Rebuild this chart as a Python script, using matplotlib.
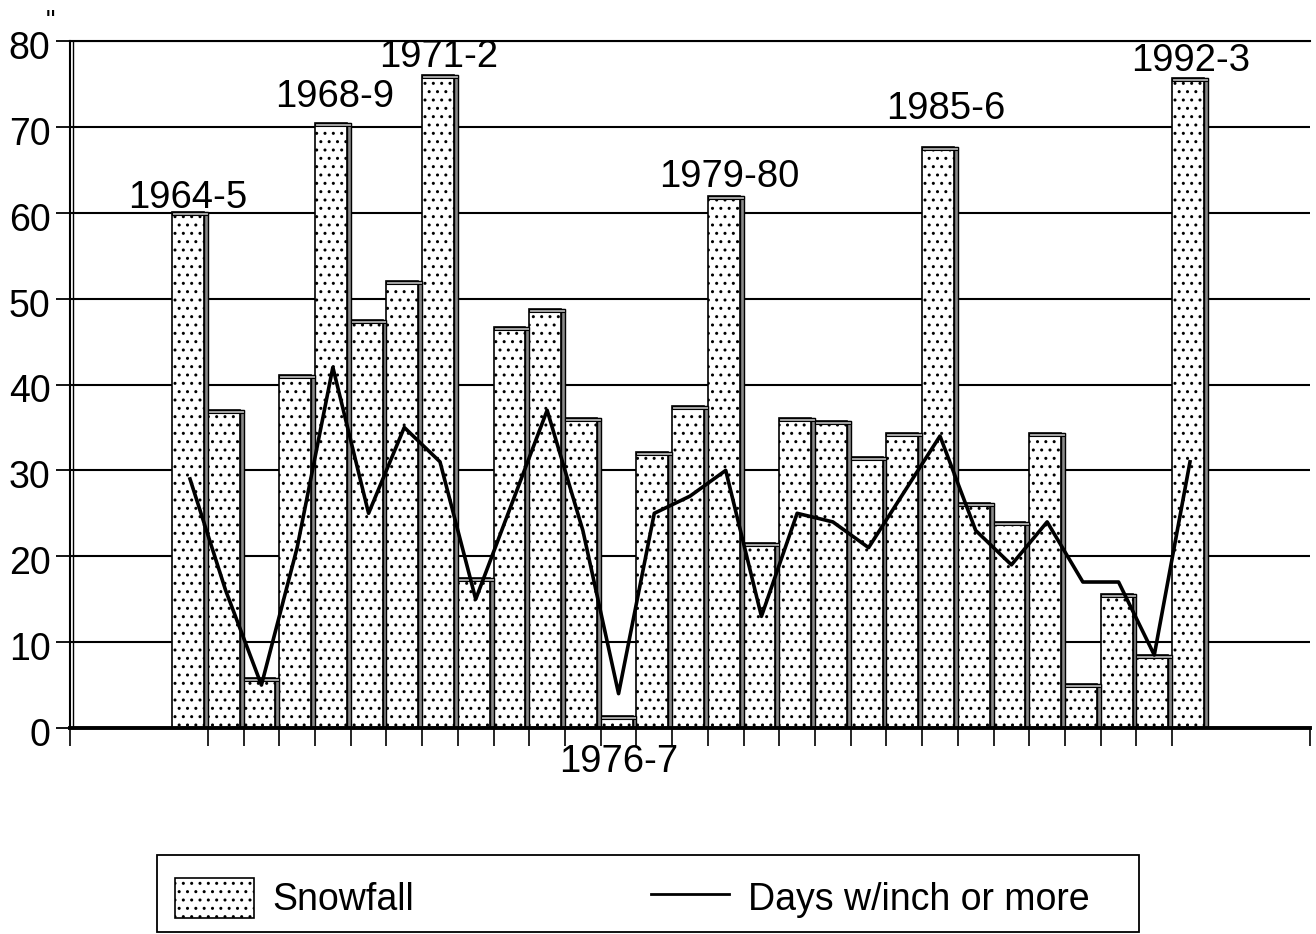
import matplotlib
matplotlib.use("Agg")
import matplotlib.pyplot as plt
import matplotlib.transforms as mtransforms
from matplotlib.patches import Patch, Rectangle
from matplotlib.lines import Line2D

plt.rcParams['font.family'] = ['Liberation Sans', 'DejaVu Sans']
plt.rcParams['hatch.linewidth'] = 1.0

seasons = ["1964-5", "1965-6", "1966-7", "1967-8", "1968-9", "1969-70", "1970-1",
           "1971-2", "1972-3", "1973-4", "1974-5", "1975-6", "1976-7", "1977-8",
           "1978-9", "1979-80", "1980-1", "1981-2", "1982-3", "1983-4", "1984-5",
           "1985-6", "1986-7", "1987-8", "1988-9", "1989-90", "1990-1", "1991-2",
           "1992-3"]
snowfall = [60.1, 37.0, 5.8, 41.1, 70.5, 47.5, 52.0, 76.0, 17.5, 46.7, 48.8, 36.1,
            1.4, 32.1, 37.5, 62.0, 21.5, 36.1, 35.7, 31.5, 34.3, 67.6, 26.2, 24.0,
            34.3, 5.1, 15.6, 8.5, 75.7]
days_inch = [29, 16, 5, 21, 42, 25, 35, 31, 15, 26, 37, 23, 4, 25, 27, 30, 13, 25,
             24, 21, 27.5, 34, 23, 19, 24, 17, 17, 8.5, 31]
labeled = ["1964-5", "1968-9", "1971-2", "1979-80", "1985-6", "1992-3"]
below_label = "1976-7"
yticks = [0, 10, 20, 30, 40, 50, 60, 70, 80]
legend_labels = ["Snowfall", "Days w/inch or more"]

# label placement offsets (dx in slots, dy in inches above bar top)
label_offsets = {"1964-5": (-0.05, 0.4), "1968-9": (0.06, 1.8), "1971-2": (-0.05, 1.0),
                 "1979-80": (0.1, 1.0), "1985-6": (0.17, 3.3), "1992-3": (0.03, 0.8)}

W, H = 1316, 934
fig = plt.figure(figsize=(W / 100, H / 100), dpi=100)
ax = fig.add_axes([70 / W, 1 - 728 / H, 1240 / W, 687 / H])

x = list(range(len(seasons)))
front_w = 0.89
side_w = 1.0 - front_w
ax.bar([i - 0.5 for i in x], snowfall, width=front_w, align='edge',
       facecolor='white', edgecolor='black', hatch='..', linewidth=1.2, zorder=2)
ax.bar([i - 0.5 + front_w for i in x], snowfall, width=side_w, align='edge',
       facecolor='#8a8a8a', edgecolor='black', linewidth=1.0, zorder=2)
ax.bar([i - 0.5 for i in x], [0.35] * len(x), bottom=[v - 0.35 for v in snowfall],
       width=1.0, align='edge', facecolor='#aaaaaa', edgecolor='black',
       linewidth=0.8, zorder=2)

ax.plot(x, days_inch, color='black', linewidth=2.6, zorder=4)

for name in labeled:
    i = seasons.index(name)
    dx, dy = label_offsets[name]
    ax.text(i + dx, snowfall[i] + dy, name, ha='center', va='baseline',
            fontsize=27.5, zorder=5, clip_on=False)
ib = seasons.index(below_label)
ax.text(ib, -5.1, below_label, ha='center', va='baseline', fontsize=27.5, clip_on=False)

xlim0, xlim1 = -3.36, 31.36
ax.set_xlim(xlim0, xlim1)
ax.set_ylim(0, 80)
ax.set_yticks(yticks)
ax.set_yticklabels([str(t) for t in yticks], fontsize=27)
ax.tick_params(axis='y', direction='out', length=10, width=1.3, pad=4)
offset = mtransforms.ScaledTranslation(0, -4 / 100, fig.dpi_scale_trans)
for lab in ax.get_yticklabels():
    lab.set_transform(lab.get_transform() + offset)
ax.set_xticks([xlim0] + [i + 0.5 for i in x[:-1]] + [xlim1])
ax.set_xticklabels([])
ax.tick_params(axis='x', direction='out', length=13, width=1.2)
ax.yaxis.grid(True, color='black', linewidth=1.5)
ax.set_axisbelow(True)
for s in ['left', 'bottom', 'top']:
    ax.spines[s].set_linewidth(1.5)
ax.spines['bottom'].set_linewidth(2.8)
ax.spines['right'].set_visible(False)
ax.axvline(xlim0 + 0.09, color='black', linewidth=1.0, zorder=3)

fig.text(50 / W, 1 - 9 / H, '"', fontsize=19, ha='center', va='top')

# legend frame
fig.patches.append(Rectangle((157 / W, 1 - 932 / H), 982 / W, 77 / H,
                             transform=fig.transFigure, fill=False,
                             edgecolor='black', linewidth=1.3))
handles = [Patch(facecolor='white', edgecolor='black', hatch='..', linewidth=1.2),
           Line2D([], [], color='black', linewidth=2)]
leg = fig.legend(handles, legend_labels, loc='center left',
                 bbox_to_anchor=(175 / W, 1 - 898 / H), ncol=2, frameon=False,
                 fontsize=27, handlelength=2.1, handleheight=1.28,
                 borderaxespad=0, borderpad=0, handletextpad=0.5,
                 columnspacing=6.3)

fig.savefig("out.png", dpi=100)
